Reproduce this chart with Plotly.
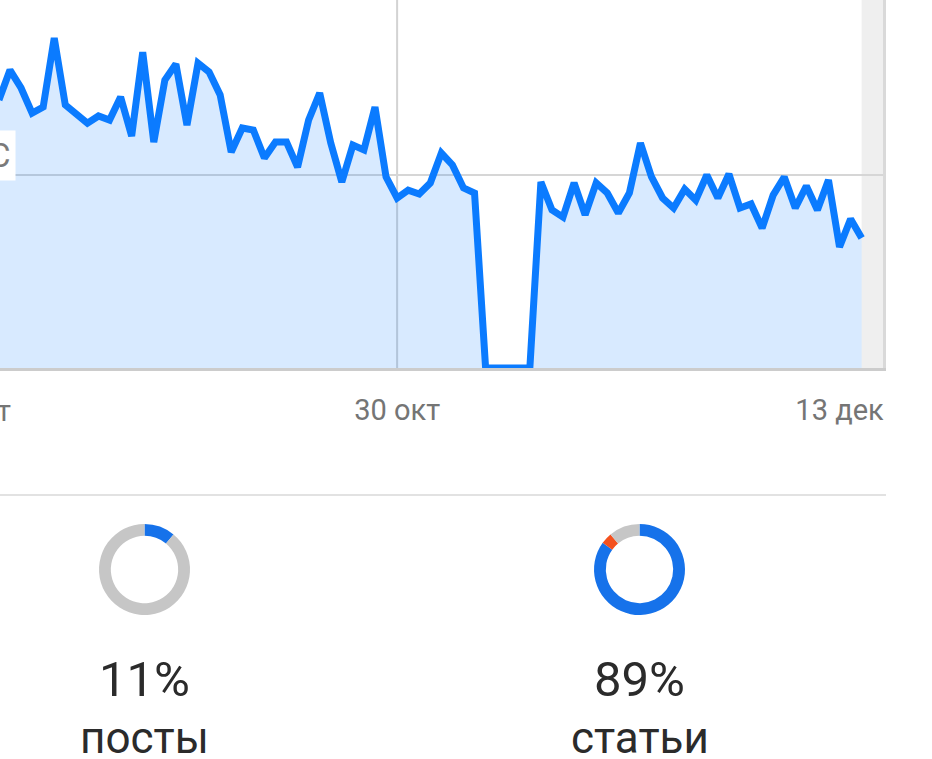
import plotly.graph_objects as go

# ---------------- data ----------------
# daily values (index 0 = first visible day; index 35 = 30 окт); first value is the day before (off-screen)
day_index = list(range(-1, 78))
views = [1389, 1544, 1451, 1321, 1352, 1710, 1363, 1321, 1269, 1306, 1285,
         1404, 1202, 1637, 1171, 1492, 1575, 1259, 1580, 1534, 1415,
         1119, 1244, 1233, 1088, 1171, 1171, 1041, 1285, 1425, 1166,
         964, 1155, 1130, 1352, 990, 881, 922, 902, 959, 1114,
         1052, 933, 907, 0, 0, 0, 0, 0, 964, 819,
         782, 959, 793, 959, 907, 803, 907, 1166, 990, 881,
         829, 927, 870, 1000, 881, 1005, 829, 850, 725, 896,
         990, 829, 943, 819, 974, 627, 772, 674]

tick_pos = [-5, 35, 75]
tick_text = ["16 сент", "30 окт", "13 дек"]
y_grid = [1000]
y_label = "С"

donut_labels = ["посты", "статьи"]
donut_pct = ["11%", "89%"]
posts_share = [11, 89]          # blue, grey
articles_share = [85, 4, 11]    # blue, orange, grey

# ---------------- layout constants ----------------
W, H = 932, 759
x_range = [-0.904, 78.93]
plot_right_px = 883
plot_bottom_px = 368
y_range = [0, 1907]

BLUE_LINE = "#0b7bff"
BLUE = "#1672ea"
GREY = "#c6c6c6"
ORANGE = "#f4511e"
FONT = "Roboto"

fig = go.Figure()

fig.add_trace(go.Scatter(
    x=day_index, y=views, mode="lines",
    line=dict(color=BLUE_LINE, width=7),
    fill="tozeroy", fillcolor="rgba(11,123,255,0.16)",
    hoverinfo="skip", showlegend=False,
))

# donuts
fig.add_trace(go.Pie(
    values=posts_share, marker=dict(colors=[BLUE, GREY], line=dict(width=0)),
    hole=0.74, sort=False, direction="clockwise", rotation=0,
    textinfo="none", hoverinfo="skip", showlegend=False,
    domain=dict(x=[99 / W, 190 / W], y=[1 - 615 / H, 1 - 524 / H]),
))
fig.add_trace(go.Pie(
    values=articles_share, marker=dict(colors=[BLUE, ORANGE, GREY], line=dict(width=0)),
    hole=0.74, sort=False, direction="clockwise", rotation=0,
    textinfo="none", hoverinfo="skip", showlegend=False,
    domain=dict(x=[594 / W, 685 / W], y=[1 - 615 / H, 1 - 524 / H]),
))

x_dom = [0, plot_right_px / W]
y_dom = [1 - plot_bottom_px / H, 1]


def x_to_paper(v):
    return x_dom[0] + (v - x_range[0]) / (x_range[1] - x_range[0]) * (x_dom[1] - x_dom[0])


annotations = []
# clipped first tick label
annotations.append(dict(
    x=x_to_paper(tick_pos[0]), y=1 - 411 / H, xref="paper", yref="paper",
    text=tick_text[0], showarrow=False, xanchor="center", yanchor="middle",
    xshift=6,
    font=dict(family=FONT, size=29, color="#757575"),
))
# y label box (partially off-screen)
annotations.append(dict(
    x=16 / W, y=y_grid[0], xref="paper", yref="y",
    text=y_label, showarrow=False, xanchor="right", yanchor="bottom", yshift=-6,
    font=dict(family=FONT, size=33, color="#7a7a7a"),
    bgcolor="white", borderpad=5,
))
centers = [144.5, 639.5]
for cx, pct, lab in zip(centers, donut_pct, donut_labels):
    annotations.append(dict(
        x=cx / W, y=1 - 679 / H, xref="paper", yref="paper", text=pct,
        showarrow=False, xanchor="center", yanchor="middle",
        font=dict(family=FONT, size=49, color="#2b2b2b"),
    ))
    annotations.append(dict(
        x=cx / W, y=1 - 738 / H, xref="paper", yref="paper", text=lab,
        showarrow=False, xanchor="center", yanchor="middle",
        font=dict(family=FONT, size=44, color="#2b2b2b"),
    ))

shapes = [
    # grey strip at the right of the data
    dict(type="rect", xref="x", yref="y domain", x0=day_index[-1], x1=x_range[1],
         y0=0, y1=1, fillcolor="#efefef", line=dict(width=0), layer="below"),
    # vertical grid line at the middle tick
    dict(type="line", xref="x", yref="y domain", x0=tick_pos[1], x1=tick_pos[1],
         y0=0, y1=1, line=dict(color="#d3d3d3", width=2), layer="below"),
    # separator
    dict(type="line", xref="paper", yref="paper", x0=0, x1=886 / W,
         y0=1 - 495 / H, y1=1 - 495 / H, line=dict(color="#e2e2e2", width=2)),
]

fig.update_layout(
    width=W, height=H, margin=dict(l=0, r=0, t=0, b=0),
    paper_bgcolor="white", plot_bgcolor="white",
    font=dict(family=FONT),
    xaxis=dict(domain=x_dom, range=x_range, showgrid=False, zeroline=False,
               tickvals=tick_pos[1:], ticktext=tick_text[1:], ticks="",
               tickfont=dict(family=FONT, size=29, color="#757575"),
               showline=True, linecolor="#cccccc", linewidth=3,
               ticklabelstandoff=14, fixedrange=True),
    yaxis=dict(domain=y_dom, range=y_range, tickvals=y_grid, showticklabels=False,
               showgrid=True, gridcolor="#d6d6d6", gridwidth=2, zeroline=False,
               side="right", showline=True, linecolor="#d9d9d9", linewidth=3,
               ticks="", fixedrange=True),
    annotations=annotations, shapes=shapes,
)

fig.write_html(
    "out.html",
    config={"displayModeBar": False, "staticPlot": True},
    post_script="document.body.style.margin='0';document.body.style.overflow='hidden';",
)
